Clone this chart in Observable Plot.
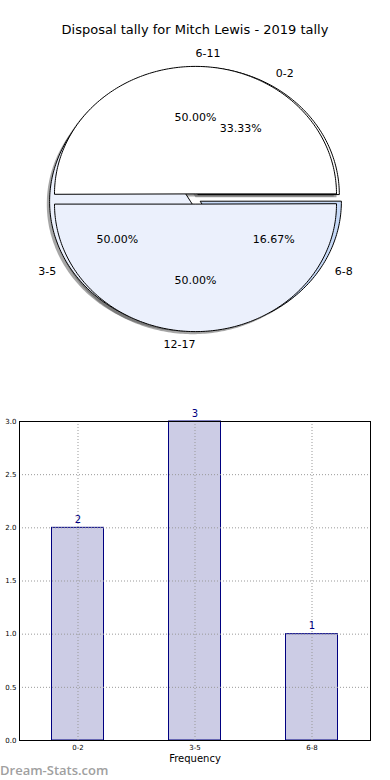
<!DOCTYPE html>
<html><head><meta charset="utf-8">
<script src="https://cdn.jsdelivr.net/npm/d3@7"></script>
<script src="https://cdn.jsdelivr.net/npm/@observablehq/plot@0.6"></script>
<style>
body{margin:0;background:#fff;width:390px;height:780px;position:relative;overflow:hidden;font-family:"DejaVu Sans",sans-serif;}
#title{position:absolute;top:22px;left:0;width:390px;text-align:center;font-size:13px;color:#000;line-height:16px;}
#pie{position:absolute;top:0;left:0;}
#bar{position:absolute;top:400px;left:0;}
#wm{position:absolute;left:0px;top:761px;font-family:"Open Sans",sans-serif;font-size:13px;color:#a0a0a0;font-weight:600;line-height:18px;}
</style></head>
<body>
<div id="pie"></div>
<div id="title">Disposal tally for Mitch Lewis - 2019 tally</div>
<div id="bar"></div>
<div id="wm">Dream-Stats.com</div>
<script>
// ---- data ----
const innerLabels = ["0-2", "3-5", "6-8"];
const innerValues = [2, 3, 1];
const innerColors = ["#ffffff", "#ebf0fc", "#c6d9f7"];
const outerLabels = ["6-11", "12-17"];
const outerValues = [1, 1];
const outerColors = ["#ffffff", "#ebf0fc"];
const barCategories = ["0-2", "3-5", "6-8"];
const barValues = [2, 3, 1];
const yTicks = [0, 0.5, 1, 1.5, 2, 2.5, 3];
const explode = 0.04;

function slices(labels, values, colors, pieId) {
  const total = d3.sum(values);
  let start = 0;
  return labels.map((label, i) => {
    const frac = values[i] / total;
    const t1 = start * 2 * Math.PI, t2 = (start + frac) * 2 * Math.PI;
    start += frac;
    const mid = (t1 + t2) / 2;
    const cx = explode * Math.cos(mid), cy = explode * Math.sin(mid);
    const n = Math.max(2, Math.ceil((t2 - t1) / (Math.PI / 180)));
    const pts = [{x: cx, y: cy}];
    for (let k = 0; k <= n; k++) {
      const t = t1 + (t2 - t1) * k / n;
      pts.push({x: cx + Math.cos(t), y: cy + Math.sin(t)});
    }
    return {label, color: colors[i], pct: (frac * 100).toFixed(2) + "%", mid, cx, cy, pts, id: pieId + "-" + i};
  });
}
const inner = slices(innerLabels, innerValues, innerColors, "a");
const outer = slices(outerLabels, outerValues, outerColors, "b");
const all = inner.concat(outer);

const shadowMarks = all.map(s => Plot.line(s.pts.map(p => ({x: p.x - 0.02, y: p.y - 0.02})),
  {x: "x", y: "y", curve: "linear-closed", fill: "#4d4d4d", fillOpacity: 0.5, stroke: "none"}));
const wedgeMarks = all.map(s => Plot.line(s.pts,
  {x: "x", y: "y", curve: "linear-closed", fill: s.color, stroke: "#000", strokeWidth: 1}));

const labelData = all.map(s => ({
  x: s.cx + 1.1 * Math.cos(s.mid), y: s.cy + 1.1 * Math.sin(s.mid),
  text: s.label, right: Math.cos(s.mid) > 0
}));
const pctData = all.map(s => ({
  x: s.cx + 0.6 * Math.cos(s.mid), y: s.cy + 0.6 * Math.sin(s.mid), text: s.pct
}));

const pie = Plot.plot({
  width: 390, height: 390, margin: 0,
  style: {fontFamily: "DejaVu Sans, sans-serif", background: "transparent"},
  x: {domain: [-1, 1], range: [54, 336], axis: null},
  y: {domain: [-1, 1], range: [326, 71], axis: null},
  marks: [
    ...shadowMarks,
    ...wedgeMarks,
    Plot.text(labelData.filter(d => d.right), {x: "x", y: "y", text: "text", textAnchor: "start", fontSize: 11, fill: "#000"}),
    Plot.text(labelData.filter(d => !d.right), {x: "x", y: "y", text: "text", textAnchor: "end", fontSize: 11, fill: "#000"}),
    Plot.text(pctData, {x: "x", y: "y", text: "text", fontSize: 11, fill: "#000"})
  ]
});
document.getElementById("pie").append(pie);

const barData = barCategories.map((c, i) => ({cat: c, value: barValues[i]}));
const bar = Plot.plot({
  width: 390, height: 380,
  marginLeft: 19, marginRight: 20, marginTop: 21, marginBottom: 40,
  style: {fontFamily: "DejaVu Sans, sans-serif", background: "transparent"},
  x: {domain: barCategories, padding: 0, label: null},
  y: {domain: [0, 3], label: null},
  marks: [
    Plot.barY(barData, {x: "cat", y: "value", fill: "#ccccE5", stroke: "#000080", strokeWidth: 1, insetLeft: 32.5, insetRight: 32.5}),
    Plot.gridY(yTicks, {stroke: "#999", strokeOpacity: 1, strokeDasharray: "1,2"}),
    Plot.gridX({stroke: "#999", strokeOpacity: 1, strokeDasharray: "1,2"}),
    Plot.text(barData, {x: "cat", y: "value", text: d => String(d.value), dy: -8, fill: "#000080", fontSize: 10}),
    Plot.axisY(yTicks, {tickSize: 0, tickPadding: 3, fontSize: 7, fill: "#000", tickFormat: d3.format(".1f"), label: null}),
    Plot.axisX({tickSize: 0, tickPadding: 5, fontSize: 7, fill: "#000", label: null}),
    Plot.text(["Frequency"], {frameAnchor: "bottom", dy: 21, fontSize: 10, fill: "#000"}),
    Plot.frame({stroke: "#000"})
  ]
});
document.getElementById("bar").append(bar);
</script>
</body></html>
